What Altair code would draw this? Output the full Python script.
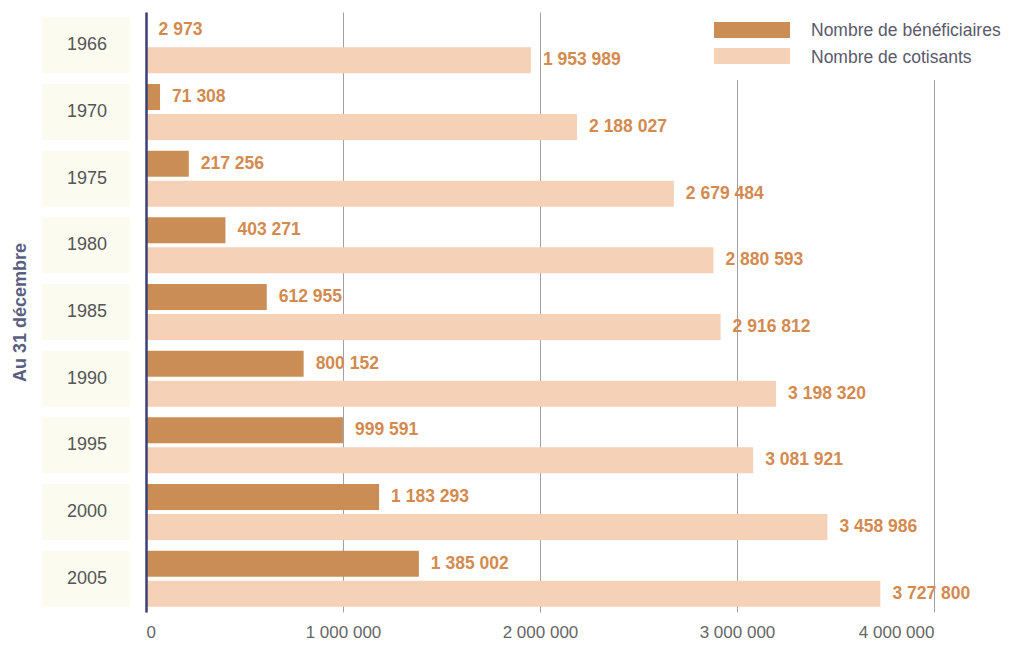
import altair as alt
import pandas as pd

years = ["1966", "1970", "1975", "1980", "1985", "1990", "1995", "2000", "2005"]
beneficiaires = [2973, 71308, 217256, 403271, 612955, 800152, 999591, 1183293, 1385002]
cotisants = [1953989, 2188027, 2679484, 2880593, 2916812, 3198320, 3081921, 3458986, 3727800]
series_names = ["Nombre de bénéficiaires", "Nombre de cotisants"]
series_colors = ["#c98d55", "#f5d2b7"]
x_ticks = [0, 1000000, 2000000, 3000000, 4000000]

rows = []
for y, b, c in zip(years, beneficiaires, cotisants):
    for name, v in zip(series_names, [b, c]):
        rows.append({"year": y, "series": name, "value": v,
                     "label": f"{v:,}".replace(",", " ")})
df = pd.DataFrame(rows)
years_df = pd.DataFrame({"year": years})

FONT = "Liberation Sans"

y_enc = alt.Y("year:N", sort=years,
              scale=alt.Scale(paddingInner=0.16, paddingOuter=0.08),
              axis=alt.Axis(labels=False, ticks=False, grid=False, domain=True,
                            domainColor="#3b3f73", domainWidth=2.5, zindex=1,
                            title="Au 31 décembre", titleAngle=270, titleX=-126,
                            titleY=300, titleAlign="center", titleBaseline="middle",
                            titleFont=FONT, titleFontSize=18, titleFontWeight="bold",
                            titleColor="#5a5f80"))
yoff = alt.YOffset("series:N", sort=series_names,
                   scale=alt.Scale(paddingInner=0.133, paddingOuter=0))

base = alt.Chart(df)

bars = base.mark_bar().encode(
    x=alt.X("value:Q", scale=alt.Scale(domain=[0, 4000000]),
            axis=alt.Axis(values=x_ticks, grid=True, gridColor="#a0a0a8", gridWidth=1,
                          domain=False, ticks=False, title=None, labelFont=FONT,
                          labelFontSize=17, labelColor="#666666", labelPadding=12,
                          labelExpr="replace(format(datum.value, ','), /,/g, ' ')")),
    y=y_enc,
    yOffset=yoff,
    color=alt.Color("series:N", scale=alt.Scale(domain=series_names, range=series_colors),
                    legend=None),
)

labels = base.mark_text(align="left", baseline="middle", dx=12, font=FONT,
                        fontSize=17.5, fontWeight="bold", color="#d38a4f").encode(
    x="value:Q", y=y_enc, yOffset=yoff, text="label:N")

boxes = alt.Chart(years_df).mark_rect(color="#fbfbef").encode(
    y=y_enc, x=alt.value(-104), x2=alt.value(-16))
year_text = alt.Chart(years_df).mark_text(align="center", baseline="middle", font=FONT,
                                          fontSize=18, color="#555555").encode(
    y=y_enc, x=alt.value(-59), text="year:N")

one = pd.DataFrame({"k": [0]})
cover = alt.Chart(one).mark_rect(color="white").encode(
    x=alt.value(560), x2=alt.value(880), y=alt.value(-12), y2=alt.value(68))
leg1 = alt.Chart(one).mark_rect(color=series_colors[0]).encode(
    x=alt.value(568), x2=alt.value(644), y=alt.value(10), y2=alt.value(26))
leg2 = alt.Chart(one).mark_rect(color=series_colors[1]).encode(
    x=alt.value(568), x2=alt.value(644), y=alt.value(36), y2=alt.value(52))
legt1 = alt.Chart(one).mark_text(align="left", baseline="middle", font=FONT, fontSize=17.5,
                                 color="#5a5a6a", text=series_names[0]).encode(
    x=alt.value(665), y=alt.value(19))
legt2 = alt.Chart(one).mark_text(align="left", baseline="middle", font=FONT, fontSize=17.5,
                                 color="#5a5a6a", text=series_names[1]).encode(
    x=alt.value(665), y=alt.value(46))

chart = alt.layer(boxes, year_text, bars, labels, cover, leg1, leg2, legt1, legt2).properties(
    width=788, height=600,
    autosize=alt.AutoSizeParams(type="none"),
    padding={"left": 146, "top": 12, "right": 82, "bottom": 34},
).configure(background="white").configure_view(stroke=None)

chart.save("out.html", embed_options={"renderer": "svg", "actions": False})
